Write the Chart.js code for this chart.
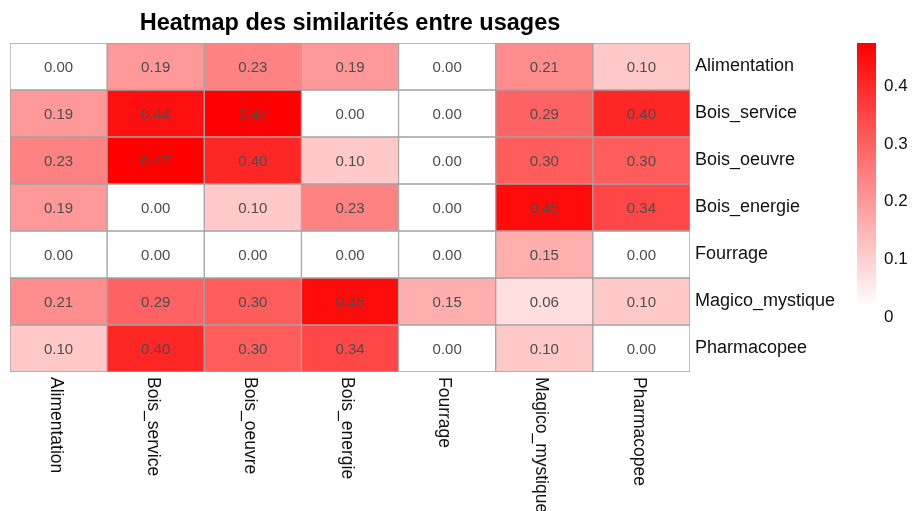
<!DOCTYPE html>
<html lang="fr">
<head>
<meta charset="utf-8">
<title>Heatmap des similarités entre usages</title>
<script src="https://cdn.jsdelivr.net/npm/chart.js@4.4.0/dist/chart.umd.min.js"></script>
<style>
  html, body { margin: 0; padding: 0; background: #ffffff; }
  canvas { display: block; }
</style>
</head>
<body>
<canvas id="heatmap" width="912" height="511"></canvas>
<script>
// usages (lignes et colonnes)
const usages = ['Alimentation', 'Bois_service', 'Bois_oeuvre', 'Bois_energie', 'Fourrage', 'Magico_mystique', 'Pharmacopee'];

// similarités, une ligne par usage
const rowAlimentation   = [0.00, 0.19, 0.23, 0.19, 0.00, 0.21, 0.10];
const rowBoisService    = [0.19, 0.44, 0.47, 0.00, 0.00, 0.29, 0.40];
const rowBoisOeuvre     = [0.23, 0.47, 0.40, 0.10, 0.00, 0.30, 0.30];
const rowBoisEnergie    = [0.19, 0.00, 0.10, 0.23, 0.00, 0.45, 0.34];
const rowFourrage       = [0.00, 0.00, 0.00, 0.00, 0.00, 0.15, 0.00];
const rowMagicoMystique = [0.21, 0.29, 0.30, 0.45, 0.15, 0.06, 0.10];
const rowPharmacopee    = [0.10, 0.40, 0.30, 0.34, 0.00, 0.10, 0.00];

// échelle de couleur (blanc -> rouge)
const colorMax = 0.47;
const legendTicks = [0, 0.1, 0.2, 0.3, 0.4];

const matrix = [rowAlimentation, rowBoisService, rowBoisOeuvre, rowBoisEnergie, rowFourrage, rowMagicoMystique, rowPharmacopee];
const FONT = "'Liberation Sans', Arial, sans-serif";

function cellColor(v) {
    const t = Math.max(0, Math.min(1, v / colorMax));
    const gb = Math.round(255 * (1 - t));
    return 'rgb(255,' + gb + ',' + gb + ')';
}

// une "barre flottante" par cellule : ligne i -> [i, i+1]
const datasets = matrix.map((vals, i) => ({
    label: usages[i],
    data: vals.map(() => [i, i + 1]),
    values: vals,
    backgroundColor: vals.map(cellColor),
    borderColor: '#a3a3a3',
    borderWidth: 1,
    borderSkipped: false,
    barPercentage: 1,
    categoryPercentage: 1,
    grouped: false
}));

const decorPlugin = {
    id: 'heatmapDecor',
    afterDraw(chart) {
        const ctx = chart.ctx;
        const area = chart.chartArea;
        const xScale = chart.scales.x;
        ctx.save();

        // valeurs dans les cellules
        ctx.font = '15px ' + FONT;
        ctx.fillStyle = '#4d4d4d';
        ctx.textAlign = 'center';
        ctx.textBaseline = 'middle';
        chart.data.datasets.forEach((ds, i) => {
            chart.getDatasetMeta(i).data.forEach((bar, j) => {
                ctx.fillText(ds.values[j].toFixed(2), bar.x, (bar.y + bar.base) / 2 + 1);
            });
        });

        // étiquettes des colonnes (verticales)
        ctx.font = '17.5px ' + FONT;
        ctx.fillStyle = '#111111';
        ctx.textAlign = 'left';
        usages.forEach((u, j) => {
            ctx.save();
            ctx.translate(xScale.getPixelForValue(j) - 3, area.bottom + 5);
            ctx.rotate(Math.PI / 2);
            ctx.fillText(u, 0, 0);
            ctx.restore();
        });

        // titre
        ctx.font = 'bold 23.5px ' + FONT;
        ctx.fillStyle = '#000000';
        ctx.textAlign = 'center';
        ctx.textBaseline = 'alphabetic';
        ctx.fillText('Heatmap des similarités entre usages', (area.left + area.right) / 2, 30);

        // légende de couleur
        const barLeft = 857, barWidth = 19;
        const barTop = area.top, barBottom = area.top + 265;
        const grad = ctx.createLinearGradient(0, barBottom, 0, barTop);
        grad.addColorStop(0, cellColor(0));
        grad.addColorStop(1, cellColor(colorMax));
        ctx.fillStyle = grad;
        ctx.fillRect(barLeft, barTop, barWidth, barBottom - barTop);

        const zeroY = barBottom + 9, maxY = barTop + 3;
        ctx.font = '17px ' + FONT;
        ctx.fillStyle = '#111111';
        ctx.textAlign = 'left';
        ctx.textBaseline = 'middle';
        legendTicks.forEach(v => {
            const y = zeroY - (v / colorMax) * (zeroY - maxY);
            ctx.fillText(String(v), barLeft + 27, y);
        });

        ctx.restore();
    }
};

new Chart(document.getElementById('heatmap').getContext('2d'), {
    type: 'bar',
    data: { labels: usages, datasets },
    options: {
        responsive: false,
        animation: false,
        layout: { padding: { left: 10, top: 43, right: 0, bottom: 0 } },
        plugins: {
            legend: { display: false },
            title: { display: false },
            tooltip: { enabled: false }
        },
        scales: {
            x: {
                type: 'category',
                offset: true,
                grid: { display: false, drawTicks: false },
                border: { display: false },
                ticks: { display: false },
                afterFit(scale) { scale.height = 139; }
            },
            y: {
                type: 'linear',
                position: 'right',
                reverse: true,
                min: 0,
                max: usages.length,
                grid: { display: false, drawTicks: false },
                border: { display: false },
                afterBuildTicks(scale) {
                    scale.ticks = usages.map((_, i) => ({ value: i + 0.5 }));
                },
                ticks: {
                    autoSkip: false,
                    padding: 5,
                    color: '#111111',
                    font: { family: FONT, size: 18 },
                    callback: (value, index) => usages[index]
                },
                afterFit(scale) { scale.width = 222; }
            }
        }
    },
    plugins: [decorPlugin]
});
</script>
</body>
</html>
